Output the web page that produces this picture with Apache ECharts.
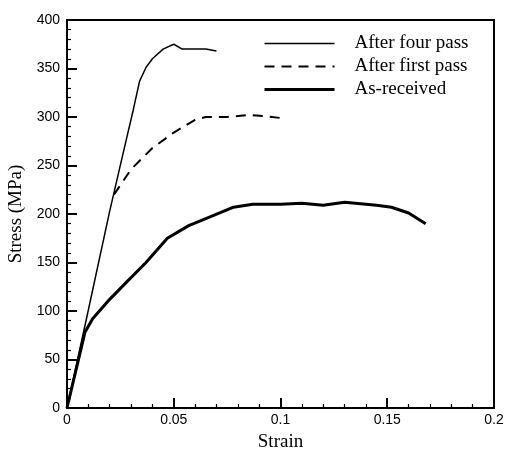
<!DOCTYPE html>
<html>
<head>
<meta charset="utf-8">
<script src="https://cdn.jsdelivr.net/npm/echarts@6/dist/echarts.min.js"></script>
<style>html,body{margin:0;padding:0;background:#fff}#c{width:506px;height:451px}</style>
</head>
<body>
<div id="c"></div>
<script>
const seriesNames = ['After four pass', 'After first pass', 'As-received'];
const fourPass = [[0,0],[0.01,101],[0.02,203],[0.026,260],[0.031,307],[0.034,337],[0.037,351],[0.04,360],[0.045,370],[0.05,375],[0.054,370],[0.065,370],[0.07,368]];
const firstPass = [[0.022,220],[0.03,246],[0.04,268],[0.05,284],[0.06,297],[0.065,300],[0.075,300],[0.085,302],[0.092,301],[0.1,299]];
const asReceived = [[0,0],[0.0084,78],[0.012,92],[0.02,112],[0.028,130],[0.037,150],[0.047,175],[0.057,188],[0.067,197],[0.078,207],[0.087,210],[0.1,210],[0.11,211],[0.12,209],[0.13,212],[0.145,209],[0.152,207],[0.16,201],[0.168,190]];
const xTicks = {min: 0, max: 0.2, interval: 0.05};
const yTicks = {min: 0, max: 400, interval: 50};

const chart = echarts.init(document.getElementById('c'));
const axisLabelStyle = {color: '#000', fontFamily: 'Liberation Sans', fontSize: 14};
chart.setOption({
  animation: false,
  grid: {left: 67, right: 12, top: 20, bottom: 43, show: true, borderColor: '#000', borderWidth: 2,
         containLabel: false, outerBoundsMode: 'none'},
  legend: {
    orient: 'vertical', left: 263, top: 34, padding: 0,
    itemWidth: 70, itemHeight: 14, itemGap: 4,
    data: seriesNames,
    itemStyle: {color: 'rgba(0,0,0,0)', borderWidth: 0, opacity: 0},
    lineStyle: {width: 'inherit', type: 'inherit', color: 'inherit'},
    textStyle: {color: '#000', fontFamily: 'Liberation Serif', fontSize: 19, lineHeight: 19, padding: [0,0,0,15]}
  },
  xAxis: {
    type: 'value', min: xTicks.min, max: xTicks.max, interval: xTicks.interval,
    name: 'Strain', nameLocation: 'middle', nameGap: 25,
    nameTextStyle: {color: '#000', fontFamily: 'Liberation Serif', fontSize: 19},
    axisLine: {show: true, onZero: false, lineStyle: {color: '#000', width: 2}},
    axisTick: {show: true, inside: true, length: 10, lineStyle: {color: '#000', width: 2}},
    minorTick: {show: true, splitNumber: 5, length: 4, lineStyle: {color: '#000', width: 1.2}},
    axisLabel: Object.assign({margin: 5}, axisLabelStyle),
    splitLine: {show: false}
  },
  yAxis: {
    type: 'value', min: yTicks.min, max: yTicks.max, interval: yTicks.interval,
    name: 'Stress (MPa)', nameLocation: 'middle', nameGap: 38,
    nameTextStyle: {color: '#000', fontFamily: 'Liberation Serif', fontSize: 19},
    axisLine: {show: true, onZero: false, lineStyle: {color: '#000', width: 2}},
    axisTick: {show: true, inside: true, length: 10, lineStyle: {color: '#000', width: 2}},
    minorTick: {show: true, splitNumber: 5, length: 4, lineStyle: {color: '#000', width: 1.2}},
    axisLabel: Object.assign({margin: 7}, axisLabelStyle),
    splitLine: {show: false}
  },
  series: [
    {name: seriesNames[0], type: 'line', data: fourPass, symbol: 'none',
     lineStyle: {color: '#000', width: 1.5}, itemStyle: {color: '#000'}},
    {name: seriesNames[1], type: 'line', data: firstPass, symbol: 'none',
     lineStyle: {color: '#000', width: 2, type: [10, 7]}, itemStyle: {color: '#000'}},
    {name: seriesNames[2], type: 'line', data: asReceived, symbol: 'none',
     lineStyle: {color: '#000', width: 3}, itemStyle: {color: '#000'}}
  ]
});
</script>
</body>
</html>
